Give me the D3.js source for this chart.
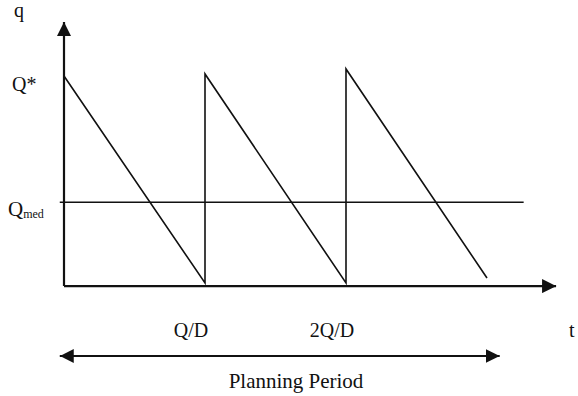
<!DOCTYPE html>
<html>
<head>
<meta charset="utf-8">
<script src="https://cdn.jsdelivr.net/npm/d3@7"></script>
<style>
  body { margin: 0; background: #fff; }
  text { font-family: "Liberation Serif", "Times New Roman", serif; fill: #111; }
</style>
</head>
<body>
<div id="chart"></div>
<script>
// --------------------------------------
//  Data (t in units of Q/D, q relative to Q*)
// --------------------------------------

const cycleStart = [0, 1, 2];
const cycleEnd = [1, 2, 3];
const peakLevel = [1.0, 1.01, 1.034];
const troughLevel = [0, 0, 0.024];
const qMed = 0.39;
const tickValues = [1, 2];
const tickLabels = ["Q/D", "2Q/D"];
const planningPeriod = [-0.03, 3.09];

// --------------------------------------
//  Canvas
// --------------------------------------

const width = 578;
const height = 396;

const svg = d3.select("#chart")
  .append("svg")
    .attr("width", width)
    .attr("height", height);

const x = d3.scaleLinear().domain([0, 3]).range([64, 487]);
const y = d3.scaleLinear().domain([0, 1]).range([283, 76]);

const xAxisEnd = 3.49;
const yAxisTop = 1.261;
const axisLevel = -0.015;
const labelRow = 337;
const planRow = 356;

const defs = svg.append("defs");
defs.append("marker")
    .attr("id", "head")
    .attr("viewBox", "0 0 14 14")
    .attr("refX", 14)
    .attr("refY", 7)
    .attr("markerWidth", 14)
    .attr("markerHeight", 14)
    .attr("markerUnits", "userSpaceOnUse")
    .attr("orient", "auto-start-reverse")
  .append("path")
    .attr("d", "M0,0 L14,7 L0,14 Z")
    .attr("fill", "#111");

// --------------------------------------
//  Axes
// --------------------------------------

svg.append("line")
    .attr("x1", x(0)).attr("y1", y(axisLevel))
    .attr("x2", x(0)).attr("y2", y(yAxisTop))
    .attr("stroke", "#111").attr("stroke-width", 2.2)
    .attr("marker-end", "url(#head)");

svg.append("line")
    .attr("x1", x(0)).attr("y1", y(axisLevel))
    .attr("x2", x(xAxisEnd)).attr("y2", y(axisLevel))
    .attr("stroke", "#111").attr("stroke-width", 2.2)
    .attr("marker-end", "url(#head)");

// --------------------------------------
//  Sawtooth
// --------------------------------------

const pts = [];
cycleStart.forEach((s, i) => {
  pts.push([s, peakLevel[i]]);
  pts.push([cycleEnd[i], troughLevel[i]]);
});

svg.append("path")
    .datum(pts)
    .attr("d", d3.line().x(d => x(d[0])).y(d => y(d[1])))
    .attr("fill", "none")
    .attr("stroke", "#111")
    .attr("stroke-width", 1.6);

// Qmed line
svg.append("line")
    .attr("x1", x(-0.03)).attr("y1", y(qMed))
    .attr("x2", x(3.26)).attr("y2", y(qMed))
    .attr("stroke", "#111").attr("stroke-width", 1.4);

// --------------------------------------
//  Labels
// --------------------------------------

svg.append("text").attr("x", 14).attr("y", 17)
    .style("font-size", "20px").text("q");

svg.append("text").attr("x", 12).attr("y", y(1) + 15)
    .style("font-size", "20px").text("Q*");

const qm = svg.append("text").attr("x", 8).attr("y", y(qMed) + 14)
    .style("font-size", "21px");
qm.append("tspan").text("Q");
qm.append("tspan").attr("dy", 2).style("font-size", "12px").text("med");

svg.selectAll(".tick-label")
  .data(tickValues)
  .join("text")
    .attr("class", "tick-label")
    .attr("x", d => x(d) - 14)
    .attr("y", labelRow)
    .attr("text-anchor", "middle")
    .style("font-size", "20px")
    .text((d, i) => tickLabels[i]);

svg.append("text").attr("x", 569).attr("y", labelRow)
    .style("font-size", "20px").text("t");

// planning period arrow
svg.append("line")
    .attr("x1", x(planningPeriod[0])).attr("y1", planRow)
    .attr("x2", x(planningPeriod[1])).attr("y2", planRow)
    .attr("stroke", "#111").attr("stroke-width", 2.2)
    .attr("marker-start", "url(#head)")
    .attr("marker-end", "url(#head)");

svg.append("text")
    .attr("x", 296).attr("y", 388)
    .attr("text-anchor", "middle")
    .style("font-size", "21px")
    .text("Planning Period");
</script>
</body>
</html>
